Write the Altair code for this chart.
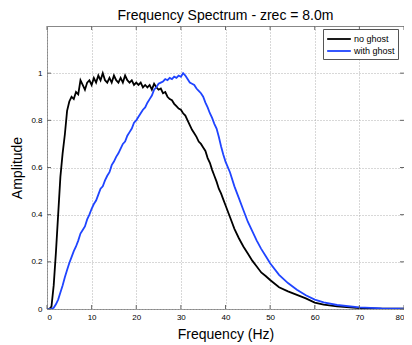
import altair as alt
import pandas as pd

# no ghost
freq_a = [0, 0.5, 1.0, 1.5, 2.0, 2.5, 3.0, 3.5, 4.0, 4.5, 5.0, 5.5, 6.0, 6.5, 7.0, 7.5, 8.0, 8.5, 9.0, 9.5,
          10.0, 10.5, 11.0, 11.5, 12.0, 12.5, 13.0, 13.5, 14.0, 14.5, 15.0, 15.5, 16.0, 16.5, 17.0, 17.5,
          18.0, 18.5, 19.0, 19.5, 20.0, 20.5, 21.0, 21.5, 22.0, 22.5, 23.0, 23.5, 24.0, 24.5, 25.0, 25.5,
          26.0, 26.5, 27.0, 27.5, 28.0, 28.5, 29.0, 29.5, 30.0, 30.5, 31.0, 31.5, 32.0, 32.5, 33.0, 33.5,
          34.0, 34.5, 35.0, 35.5, 36.0, 36.5, 37.0, 37.5, 38.0, 38.5, 39.0, 39.5, 40, 41, 42, 43, 44, 45,
          46, 47, 48, 49, 50, 52, 54, 56, 58, 60, 62, 65, 70, 75, 80]
amp_a = [0, 0, 0.01, 0.1, 0.24, 0.40, 0.56, 0.66, 0.74, 0.84, 0.88, 0.90, 0.89, 0.92, 0.91, 0.97, 0.95, 0.93,
         0.96, 0.97, 0.95, 0.98, 0.96, 0.99, 0.97, 1.0, 0.97, 0.96, 0.98, 0.96, 0.99, 0.97, 0.96, 0.98, 0.96,
         0.99, 0.97, 0.96, 0.97, 0.95, 0.96, 0.95, 0.96, 0.94, 0.95, 0.94, 0.95, 0.93, 0.955, 0.94, 0.93,
         0.935, 0.915, 0.92, 0.90, 0.89, 0.885, 0.87, 0.86, 0.85, 0.845, 0.83, 0.82, 0.80, 0.78, 0.76, 0.745,
         0.73, 0.71, 0.70, 0.685, 0.67, 0.64, 0.62, 0.59, 0.565, 0.54, 0.51, 0.49, 0.465, 0.44, 0.39, 0.34,
         0.30, 0.265, 0.235, 0.205, 0.18, 0.155, 0.14, 0.123, 0.092, 0.075, 0.06, 0.045, 0.027, 0.019, 0.011,
         0.004, 0.002, 0.001]

# with ghost
freq_b = [0, 1.0, 1.5, 2.0, 2.5, 3.0, 3.5, 4.0, 4.5, 5.0, 5.5, 6.0, 6.5, 7.0, 7.5, 8.0, 8.5, 9.0, 9.5,
          10.0, 10.5, 11.0, 11.5, 12.0, 12.5, 13.0, 13.5, 14.0, 14.5, 15.0, 15.5, 16.0, 16.5, 17.0, 17.5,
          18.0, 18.5, 19.0, 19.5, 20.0, 20.5, 21.0, 21.5, 22.0, 22.5, 23.0, 23.5, 24.0, 24.5, 25.0, 25.5,
          26.0, 26.5, 27.0, 27.5, 28.0, 28.5, 29.0, 29.5, 30.0, 30.5, 31.0, 31.5, 32.0, 32.5, 33.0, 33.5,
          34.0, 34.5, 35.0, 35.5, 36.0, 36.5, 37.0, 37.5, 38.0, 38.5, 39.0, 39.5, 40.0, 41, 42, 43, 44, 45,
          46, 47, 48, 49, 50, 52, 54, 56, 58, 60, 62, 65, 70, 75, 80]
amp_b = [0, 0, 0.005, 0.02, 0.04, 0.07, 0.10, 0.135, 0.165, 0.195, 0.22, 0.245, 0.265, 0.29, 0.32, 0.335,
         0.35, 0.38, 0.40, 0.425, 0.445, 0.46, 0.485, 0.51, 0.52, 0.545, 0.565, 0.58, 0.61, 0.625, 0.645,
         0.66, 0.68, 0.70, 0.71, 0.735, 0.75, 0.765, 0.79, 0.80, 0.815, 0.83, 0.845, 0.855, 0.875, 0.89,
         0.905, 0.93, 0.94, 0.955, 0.96, 0.965, 0.975, 0.97, 0.98, 0.975, 0.985, 0.98, 0.99, 0.985, 1.0,
         0.99, 0.975, 0.96, 0.955, 0.95, 0.935, 0.925, 0.915, 0.90, 0.875, 0.855, 0.83, 0.81, 0.785, 0.765,
         0.73, 0.69, 0.655, 0.625, 0.58, 0.52, 0.47, 0.42, 0.37, 0.33, 0.29, 0.255, 0.225, 0.194, 0.145,
         0.11, 0.082, 0.058, 0.04, 0.028, 0.017, 0.007, 0.003, 0.002]

series = ["no ghost", "with ghost"]
colors = ["#000000", "#1f44ff"]
x_ticks = [0, 10, 20, 30, 40, 50, 60, 70, 80]
y_ticks = [0, 0.2, 0.4, 0.6, 0.8, 1.0]

df = pd.concat([
    pd.DataFrame({"f": freq_a, "a": amp_a, "s": series[0], "o": range(len(freq_a))}),
    pd.DataFrame({"f": freq_b, "a": amp_b, "s": series[1], "o": range(len(freq_b))}),
])

FONT = "Liberation Sans"
xs = alt.Scale(domain=[0, 80], nice=False)
ys = alt.Scale(domain=[0, 1.2], nice=False)

lines = alt.Chart(df).mark_line(strokeWidth=1.8, clip=True).encode(
    x=alt.X("f:Q", scale=xs, title="Frequency (Hz)",
            axis=alt.Axis(values=x_ticks, format="d", grid=True, gridDash=[1, 2], gridColor="#b0b0b0",
                          ticks=False, domain=False, labelFontSize=8, labelColor="#000", labelPadding=4,
                          titleFontSize=14, titleFontWeight="normal", titleColor="#000", titlePadding=6)),
    y=alt.Y("a:Q", scale=ys, title="Amplitude",
            axis=alt.Axis(values=y_ticks, format="~g", grid=True, gridDash=[1, 2], gridColor="#b0b0b0",
                          ticks=False, domain=False, labelFontSize=8, labelColor="#000", labelPadding=5,
                          titleFontSize=14, titleFontWeight="normal", titleColor="#000", titlePadding=6)),
    color=alt.Color("s:N", scale=alt.Scale(domain=series, range=colors),
                    legend=alt.Legend(title=None, orient="none", legendX=276, legendY=3,
                                      symbolType="M-2,0H2", symbolSize=140, symbolStrokeWidth=1.8,
                                      labelFontSize=9, labelFont=FONT, labelColor="#000",
                                      strokeColor="#555", fillColor="white", padding=3, rowPadding=0,
                                      labelOffset=8, symbolOffset=6, labelLimit=200)),
    order="o:Q",
)

xt = pd.DataFrame({"f": x_ticks})
yt = pd.DataFrame({"a": y_ticks})
xtick_b = alt.Chart(xt).mark_rule(color="#666", strokeWidth=1).encode(
    x=alt.X("f:Q", scale=xs), y=alt.value(283), y2=alt.value(279))
xtick_t = alt.Chart(xt).mark_rule(color="#666", strokeWidth=1).encode(
    x=alt.X("f:Q", scale=xs), y=alt.value(0), y2=alt.value(4))
ytick_l = alt.Chart(yt).mark_rule(color="#666", strokeWidth=1).encode(
    y=alt.Y("a:Q", scale=ys), x=alt.value(0), x2=alt.value(4))
ytick_r = alt.Chart(yt).mark_rule(color="#666", strokeWidth=1).encode(
    y=alt.Y("a:Q", scale=ys), x=alt.value(357), x2=alt.value(353))

chart = alt.layer(lines, xtick_b, xtick_t, ytick_l, ytick_r).properties(
    width=357, height=283,
    autosize=alt.AutoSizeParams(type="none"),
    padding={"left": 39, "top": 18, "right": 0, "bottom": 36},
    title=alt.TitleParams("Frequency Spectrum - zrec = 8.0m", fontSize=14, fontWeight="normal",
                          font=FONT, color="#000", offset=3, anchor="middle"),
).configure(font=FONT).configure_view(stroke="#888", strokeWidth=1)

chart.save("out.html", embed_options={"renderer": "svg", "actions": False})
